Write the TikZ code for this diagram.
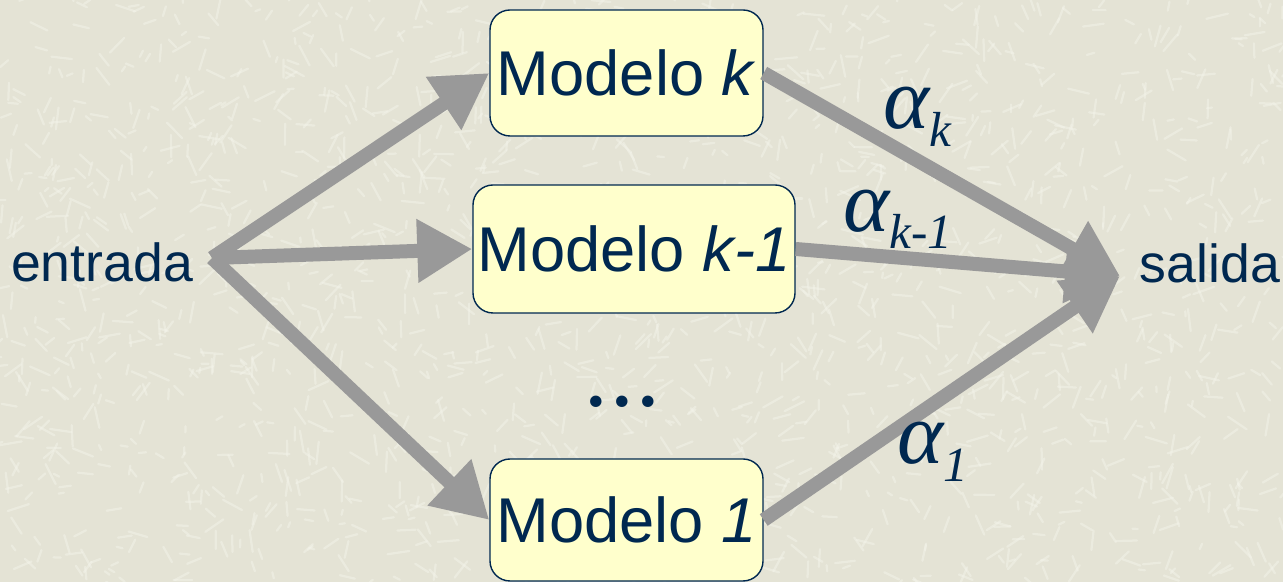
\documentclass[tikz,border=0pt]{standalone}
\usepackage{fontspec}
\setmainfont{Liberation Sans}
\newfontfamily\greekfont{Liberation Serif}
\usetikzlibrary{arrows.meta,positioning}

\definecolor{ink}{RGB}{0,40,80}
\definecolor{paper}{RGB}{228,227,213}
\definecolor{streak}{RGB}{245,245,236}
\definecolor{boxfill}{RGB}{255,255,204}
\definecolor{flow}{RGB}{153,153,153}

\newcommand{\peso}[1]{{\greekfont\itshape\fontsize{50}{50}\selectfont α\raisebox{-10pt}{\fontsize{28}{28}\selectfont #1}}}

\begin{document}
\begin{tikzpicture}[
  modelo/.style={draw=ink, line width=0.8pt, fill=boxfill, rounded corners=0.4cm,
    minimum width=5.46cm, minimum height=2.52cm, inner sep=0pt,
    text=ink, font=\fontsize{36}{36}\selectfont},
  etiqueta/.style={text=ink, font=\fontsize{30.5}{30.5}\selectfont},
  flecha/.style={draw=flow, line width=0.28cm, -{Triangle[length=1.1cm,width=1.2cm]}}]
\useasboundingbox (0,0) rectangle (25.66,11.64);
\fill[paper] (0,0) rectangle (25.66,11.64);
\begin{scope}
\clip (0,0) rectangle (25.66,11.64);
\pgfmathsetseed{42}
\foreach \n in {1,...,1800}{
  \pgfmathsetmacro{\sx}{25.66*rnd}
  \pgfmathsetmacro{\sy}{11.64*rnd}
  \pgfmathsetmacro{\sa}{360*rnd}
  \pgfmathsetmacro{\sl}{0.1+0.35*rnd}
  \draw[streak, line width=0.045cm, opacity=0.45, line cap=round] (\sx,\sy) -- ++(\sa:\sl);
}
\end{scope}

\node[etiqueta] (entrada) at (2.04,6.4) {entrada};
\coordinate (hub) at (4.24,6.48);
\node[modelo] (mk) at (12.53,10.18) {Modelo \textit{k}};
\node[modelo, minimum width=6.44cm, minimum height=2.56cm] (mk1) at (12.68,6.66) {Modelo \textit{k-1}};
\node[modelo, minimum height=2.44cm] (m1) at (12.53,1.24) {Modelo \textit{1}};
\node[text=ink, font=\greekfont\bfseries\fontsize{40}{40}\selectfont] (dots) at (12.44,3.6) {.\hspace{0.12em}.\hspace{0.12em}.};
\node[etiqueta] (salida) at (24.2,6.38) {salida};
\coordinate (sal) at (22.4,6.12);

\draw[flecha] (hub) -- (mk.west);
\draw[flecha] (hub) -- (mk1.west);
\draw[flecha] (hub) -- (m1.west);
\draw[flecha] (mk.east) -- (sal);
\draw[flecha] (mk1.east) -- (sal);
\draw[flecha] (m1.east) -- (sal);

\node[text=ink] (wk) at (18.35,9.3) {\peso{k}};
\node[text=ink] (wk1) at (17.95,7.25) {\peso{k-1}};
\node[text=ink] (w1) at (18.65,2.6) {\peso{1}};
\end{tikzpicture}
\end{document}
